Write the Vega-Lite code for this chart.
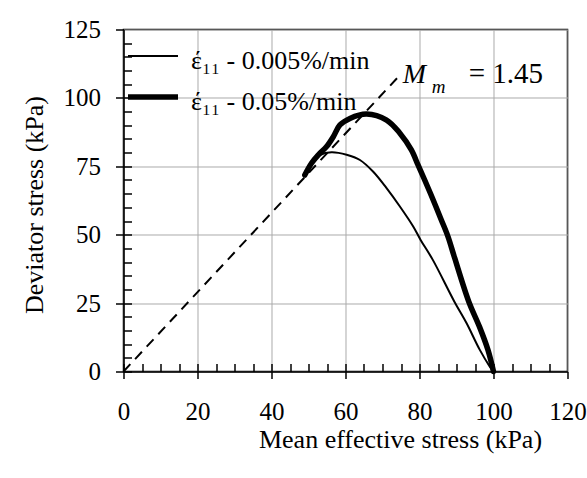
{
  "$schema": "https://vega.github.io/schema/vega-lite/v6.json",
  "width": 444,
  "height": 342,
  "autosize": {"type": "none"},
  "padding": {"left": 123.5, "top": 29.5, "right": 19.5, "bottom": 106.3},
  "background": "white",
  "config": {
    "font": "Liberation Serif",
    "view": {"stroke": "black", "strokeWidth": 1.5},
    "axis": {
      "labelFont": "Liberation Serif",
      "titleFont": "Liberation Serif",
      "labelColor": "black",
      "titleColor": "black",
      "domainColor": "black",
      "tickColor": "black",
      "labelFontWeight": "normal",
      "titleFontWeight": "normal"
    },
    "legend": {"labelFont": "Liberation Serif"},
    "text": {"font": "Liberation Serif"}
  },
  "datasets": {
    "curves": [
      {"rate": "έ₁₁ - 0.005%/min", "i": 1, "p": 100, "q": 0},
      {"rate": "έ₁₁ - 0.005%/min", "i": 2, "p": 99.0, "q": 1.8},
      {"rate": "έ₁₁ - 0.005%/min", "i": 3, "p": 96.3, "q": 7.9},
      {"rate": "έ₁₁ - 0.005%/min", "i": 4, "p": 92.7, "q": 17.7},
      {"rate": "έ₁₁ - 0.005%/min", "i": 5, "p": 89.4, "q": 25.6},
      {"rate": "έ₁₁ - 0.005%/min", "i": 6, "p": 83.6, "q": 40.8},
      {"rate": "έ₁₁ - 0.005%/min", "i": 7, "p": 80.3, "q": 48.1},
      {"rate": "έ₁₁ - 0.005%/min", "i": 8, "p": 78.3, "q": 53.0},
      {"rate": "έ₁₁ - 0.005%/min", "i": 9, "p": 74.7, "q": 60.3},
      {"rate": "έ₁₁ - 0.005%/min", "i": 10, "p": 71.1, "q": 67.0},
      {"rate": "έ₁₁ - 0.005%/min", "i": 11, "p": 67.5, "q": 73.0},
      {"rate": "έ₁₁ - 0.005%/min", "i": 12, "p": 63.9, "q": 77.3},
      {"rate": "έ₁₁ - 0.005%/min", "i": 13, "p": 60.3, "q": 79.2},
      {"rate": "έ₁₁ - 0.005%/min", "i": 14, "p": 56.2, "q": 80.1},
      {"rate": "έ₁₁ - 0.005%/min", "i": 15, "p": 53.1, "q": 79.1},
      {"rate": "έ₁₁ - 0.005%/min", "i": 16, "p": 51.3, "q": 76.7},
      {"rate": "έ₁₁ - 0.005%/min", "i": 17, "p": 49.5, "q": 73.7},
      {"rate": "έ₁₁ - 0.005%/min", "i": 18, "p": 48.8, "q": 72.0},
      {"rate": "έ₁₁ - 0.05%/min", "i": 1, "p": 100, "q": 0},
      {"rate": "έ₁₁ - 0.05%/min", "i": 2, "p": 98.5, "q": 7.9},
      {"rate": "έ₁₁ - 0.05%/min", "i": 3, "p": 96.2, "q": 16.4},
      {"rate": "έ₁₁ - 0.05%/min", "i": 4, "p": 93.3, "q": 25.6},
      {"rate": "έ₁₁ - 0.05%/min", "i": 5, "p": 89.5, "q": 41.5},
      {"rate": "έ₁₁ - 0.05%/min", "i": 6, "p": 87.7, "q": 49.3},
      {"rate": "έ₁₁ - 0.05%/min", "i": 7, "p": 85.9, "q": 55.4},
      {"rate": "έ₁₁ - 0.05%/min", "i": 8, "p": 83.7, "q": 62.7},
      {"rate": "έ₁₁ - 0.05%/min", "i": 9, "p": 81.4, "q": 70.0},
      {"rate": "έ₁₁ - 0.05%/min", "i": 10, "p": 79.6, "q": 75.5},
      {"rate": "έ₁₁ - 0.05%/min", "i": 11, "p": 77.8, "q": 81.0},
      {"rate": "έ₁₁ - 0.05%/min", "i": 12, "p": 74.7, "q": 87.1},
      {"rate": "έ₁₁ - 0.05%/min", "i": 13, "p": 71.1, "q": 91.9},
      {"rate": "έ₁₁ - 0.05%/min", "i": 14, "p": 65.7, "q": 94.1},
      {"rate": "έ₁₁ - 0.05%/min", "i": 15, "p": 61.2, "q": 92.5},
      {"rate": "έ₁₁ - 0.05%/min", "i": 16, "p": 58.5, "q": 90.1},
      {"rate": "έ₁₁ - 0.05%/min", "i": 17, "p": 56.7, "q": 85.8},
      {"rate": "έ₁₁ - 0.05%/min", "i": 18, "p": 54.9, "q": 82.2},
      {"rate": "έ₁₁ - 0.05%/min", "i": 19, "p": 52.6, "q": 79.1},
      {"rate": "έ₁₁ - 0.05%/min", "i": 20, "p": 50.8, "q": 76.1},
      {"rate": "έ₁₁ - 0.05%/min", "i": 21, "p": 49.0, "q": 71.8}
    ],
    "mline": [
      {"p": 0, "q": 0},
      {"p": 74, "q": 107.3}
    ],
    "note": [
      {"part": "M", "p": 75.5, "q": 105.5, "t": "M"},
      {"part": "sub", "p": 83.3, "q": 101.8, "t": "m"},
      {"part": "val", "p": 93.3, "q": 105.5, "t": "= 1.45"}
    ]
  },
  "layer": [
    {
      "data": {"name": "mline"},
      "mark": {"type": "line", "color": "black", "strokeWidth": 2, "strokeDash": [10, 7]},
      "encoding": {
        "x": {
          "field": "p", "type": "quantitative",
          "scale": {"domain": [0, 120], "nice": false, "zero": false},
          "axis": {
            "title": "Mean effective stress (kPa)",
            "values": [0, 20, 40, 60, 80, 100, 120],
            "tickSize": 7, "tickWidth": 1.5, "domainWidth": 1.5,
            "labelFontSize": 25, "labelPadding": 21, "labelFlush": false,
            "titleFontSize": 26, "titlePadding": 2, "titleX": 276.5,
            "grid": true, "gridColor": "#aaaaaa", "gridWidth": 1
          }
        },
        "y": {
          "field": "q", "type": "quantitative",
          "scale": {"domain": [0, 125], "nice": false, "zero": false},
          "axis": {
            "title": "Deviator stress (kPa)",
            "values": [0, 25, 50, 75, 100, 125],
            "tickSize": 8, "tickWidth": 1.5, "domainWidth": 1.5,
            "labelFontSize": 25, "labelPadding": 15, "labelFlush": false,
            "titleFontSize": 26, "titlePadding": 16, "titleY": 175,
            "grid": true, "gridColor": "#aaaaaa", "gridWidth": 1
          }
        }
      }
    },
    {
      "data": {"name": "mline"},
      "mark": {"type": "line", "opacity": 0},
      "encoding": {
        "x": {
          "field": "p", "type": "quantitative",
          "axis": {
            "orient": "bottom", "title": null, "labels": false, "domain": false, "grid": false,
            "values": [0, 5, 10, 15, 20, 25, 30, 35, 40, 45, 50, 55, 60, 65, 70, 75, 80, 85, 90, 95, 100, 105, 110, 115],
            "tickSize": -8, "tickWidth": 1.5
          }
        },
        "y": {
          "field": "q", "type": "quantitative",
          "axis": {
            "orient": "left", "title": null, "labels": false, "domain": false, "grid": false,
            "values": [0, 5, 10, 15, 20, 25, 30, 35, 40, 45, 50, 55, 60, 65, 70, 75, 80, 85, 90, 95, 100, 105, 110, 115, 120],
            "tickSize": -8, "tickWidth": 1.5
          }
        }
      }
    },
    {
      "data": {"name": "curves"},
      "mark": {"type": "line", "color": "black", "strokeJoin": "round", "strokeCap": "round", "interpolate": "catmull-rom"},
      "encoding": {
        "x": {"field": "p", "type": "quantitative", "axis": null},
        "y": {"field": "q", "type": "quantitative", "axis": null},
        "order": {"field": "i", "type": "quantitative"},
        "strokeWidth": {
          "field": "rate", "type": "ordinal",
          "scale": {"domain": ["έ₁₁ - 0.005%/min", "έ₁₁ - 0.05%/min"], "range": [2, 5.5]},
          "legend": {
            "title": null, "orient": "none", "legendX": 1.5, "legendY": 5.5,
            "padding": 0, "rowPadding": -5,
            "symbolType": "M-1,-0.2H1", "symbolSize": 2500, "symbolStrokeColor": "black",
            "labelFontSize": 26, "labelOffset": 10, "labelLimit": 500, "labelColor": "black",
            "labelBaseline": "middle"
          }
        }
      }
    },
    {
      "data": {"name": "note"},
      "transform": [{"filter": "datum.part == 'M'"}],
      "mark": {"type": "text", "align": "left", "baseline": "alphabetic", "fontSize": 28, "fontStyle": "italic", "color": "black"},
      "encoding": {
        "x": {"field": "p", "type": "quantitative", "axis": null},
        "y": {"field": "q", "type": "quantitative", "axis": null},
        "text": {"field": "t"}
      }
    },
    {
      "data": {"name": "note"},
      "transform": [{"filter": "datum.part == 'sub'"}],
      "mark": {"type": "text", "align": "left", "baseline": "alphabetic", "fontSize": 19, "fontStyle": "italic", "color": "black"},
      "encoding": {
        "x": {"field": "p", "type": "quantitative", "axis": null},
        "y": {"field": "q", "type": "quantitative", "axis": null},
        "text": {"field": "t"}
      }
    },
    {
      "data": {"name": "note"},
      "transform": [{"filter": "datum.part == 'val'"}],
      "mark": {"type": "text", "align": "left", "baseline": "alphabetic", "fontSize": 29, "color": "black"},
      "encoding": {
        "x": {"field": "p", "type": "quantitative", "axis": null},
        "y": {"field": "q", "type": "quantitative", "axis": null},
        "text": {"field": "t"}
      }
    }
  ],
  "resolve": {"axis": {"x": "independent", "y": "independent"}}
}
